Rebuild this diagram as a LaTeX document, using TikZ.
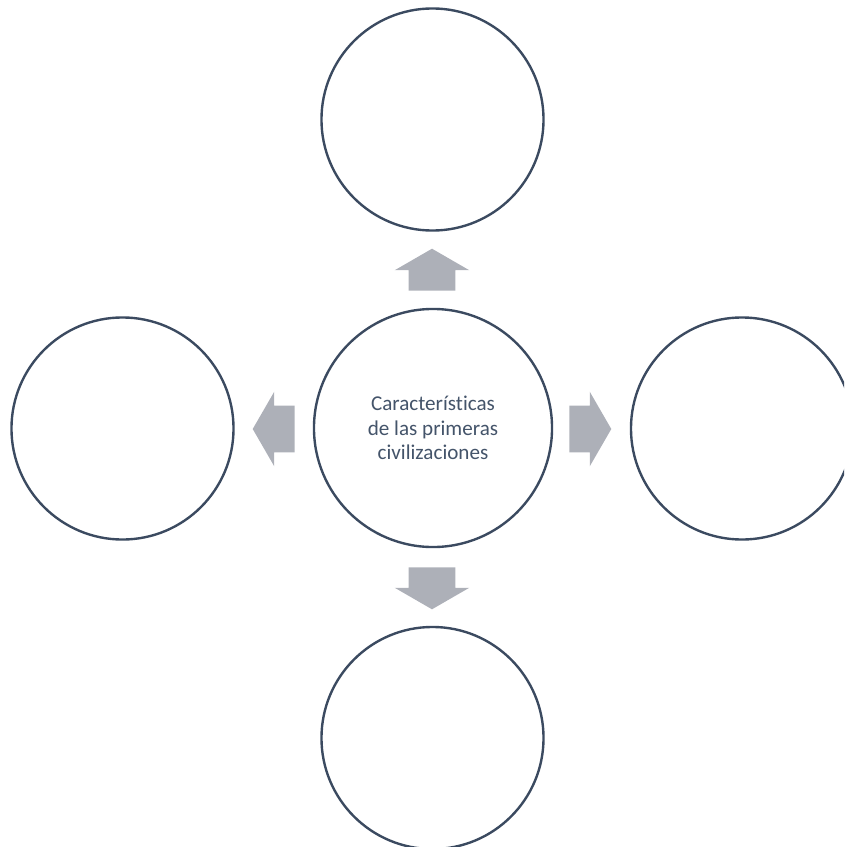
\documentclass[tikz,border=0pt]{standalone}
\usepackage{fontspec}
\setmainfont{Carlito}[Ligatures=NoCommon]
\usetikzlibrary{shapes.arrows}
\definecolor{ringline}{HTML}{3B4A60}
\definecolor{ringtext}{HTML}{44546A}
\definecolor{arrowgray}{HTML}{ADB0B8}
\begin{document}
\begin{tikzpicture}[x=0.025cm, y=-0.025cm,
    topic/.style={
        circle,
        draw=ringline,
        line width=1.7pt,
        fill=white,
        minimum size=5.55cm,
        inner sep=0pt
    },
    hub/.style={
        topic,
        minimum size=5.95cm,
        font=\fontsize{15}{17.2}\selectfont,
        text=ringtext,
        align=center
    },
    blockarrow/.style={
        single arrow,
        fill=arrowgray,
        draw=none,
        inner xsep=0pt,
        inner ysep=0.575cm,
        minimum width=1.85cm,
        minimum height=1.05cm,
        single arrow head extend=0.35cm,
        single arrow tip angle=120,
        anchor=tail
    }
]

\useasboundingbox (0,0) rectangle (844,847);
\clip (0,0) rectangle (844,847);

% Centre
\node[hub] (hub) at (433,428) {Características\\de las primeras\\civilizaciones};

% Outer circles
\node[topic] (top) at (432.5,119.5) {};
\node[topic] (left) at (122.5,428.5) {};
\node[topic] (right) at (742,428.5) {};
\node[topic] (bottom) at (432.5,738) {};

% Block arrows
\node[blockarrow, rotate=90] (toup) at (432,291) {};
\node[blockarrow, rotate=180] (toleft) at (295,429) {};
\node[blockarrow] (toright) at (569,429) {};
\node[blockarrow, rotate=-90] (todown) at (432,567) {};

\end{tikzpicture}
\end{document}
